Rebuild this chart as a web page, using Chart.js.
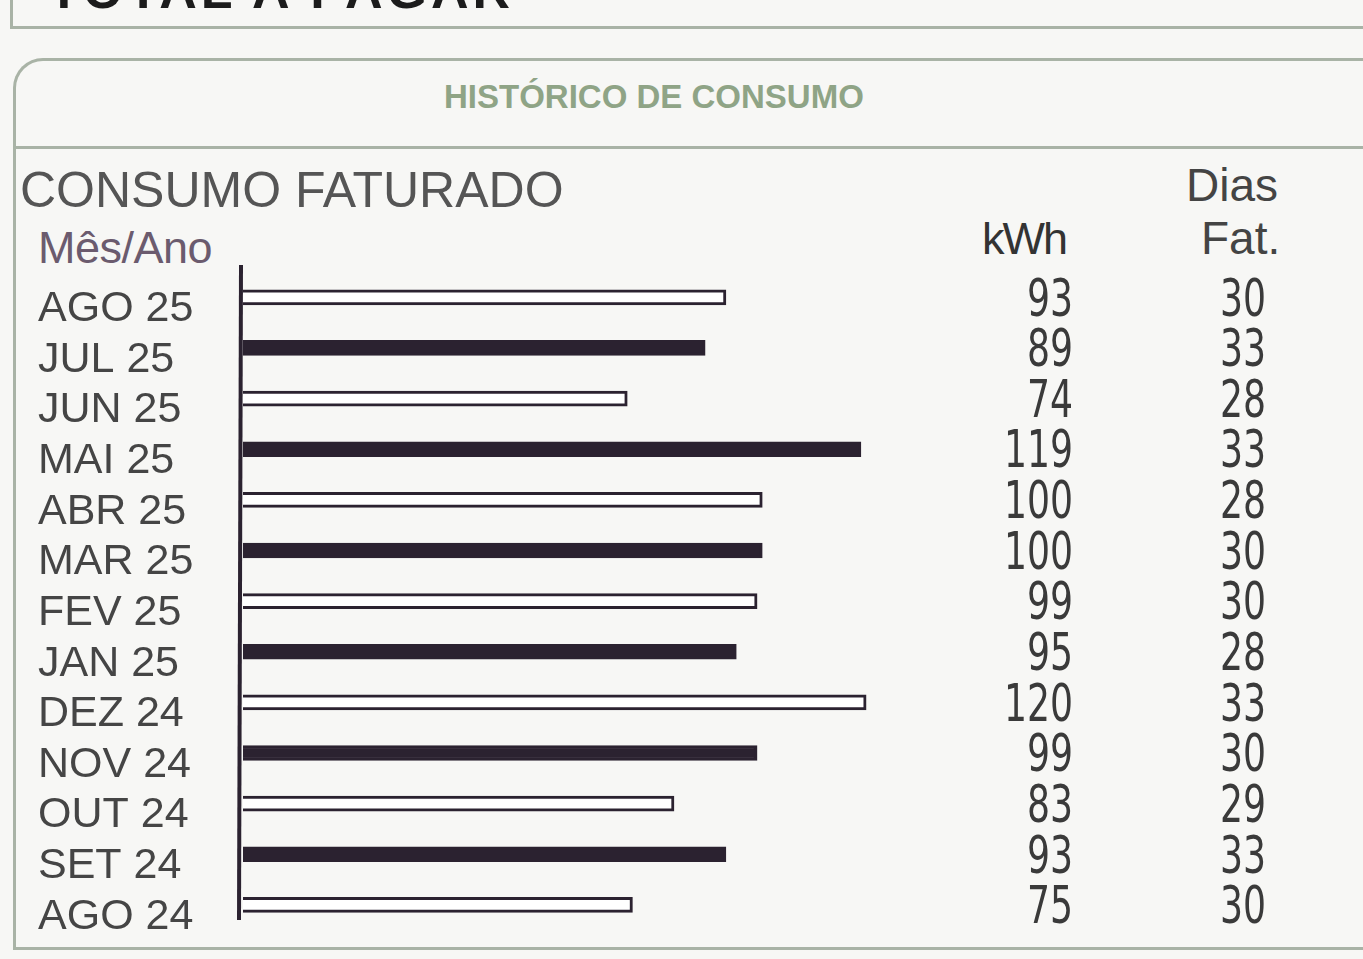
<!DOCTYPE html>
<html>
<head>
<meta charset="utf-8">
<script src="https://cdn.jsdelivr.net/npm/chart.js@4/dist/chart.umd.min.js"></script>
<style>
  body { margin: 0; background: #f7f7f5; width: 1363px; height: 959px; overflow: hidden; position: relative; font-family: "Liberation Sans", Arial, sans-serif; }
  .abs { position: absolute; }
  #topo { left: 10px; top: -40px; width: 1400px; height: 66px; border: 3px solid #a9b3a6; border-top: none; }
  #topoTxt { left: 48px; top: -40px; font: bold 52px "Liberation Sans", Arial; color: #1c1c1c; letter-spacing: 4px; }
  #caixa { left: 13px; top: 58px; width: 1400px; height: 886px; border: 3px solid #a9b3a6; border-right: none; border-radius: 30px 0 0 0; }
  #sep { left: 16px; top: 146px; width: 1400px; height: 0; border-top: 3px solid #a9b3a6; }
  #titulo { left: 444px; top: 78px; font: bold 33px "Liberation Sans", Arial; color: #8fa486; letter-spacing: 0px; }
  #consumo { left: 20px; top: 161px; font: 50px "Liberation Sans", Arial; color: #555; }
  #mesano { left: 38px; top: 222px; font: 45px "Liberation Sans", Arial; color: #6b5b6e; letter-spacing: -0.5px; }
  #kwh { left: 982px; top: 213px; font: 45px "Liberation Sans", Arial; color: #333; letter-spacing: -2px; }
  #dias { left: 1186px; top: 158px; font: 46px "Liberation Sans", Arial; color: #444; }
  #fat { left: 1201px; top: 211px; font: 46px "Liberation Sans", Arial; color: #444; }
  canvas { position: absolute; left: 0; top: 0; }
</style>
</head>
<body>
<div class="abs" id="topo"></div>
<div class="abs" id="topoTxt">TOTAL A PAGAR</div>
<div class="abs" id="caixa"></div>
<div class="abs" id="sep"></div>
<div class="abs" id="titulo">HISTÓRICO DE CONSUMO</div>
<div class="abs" id="consumo">CONSUMO FATURADO</div>
<div class="abs" id="mesano">Mês/Ano</div>
<div class="abs" id="kwh">kWh</div>
<div class="abs" id="dias">Dias</div>
<div class="abs" id="fat">Fat.</div>
<canvas id="grafico" width="1363" height="959"></canvas>
<script>
// dados do historico (mais recente primeiro)
const meses = ['AGO 25', 'JUL 25', 'JUN 25', 'MAI 25', 'ABR 25', 'MAR 25', 'FEV 25', 'JAN 25', 'DEZ 24', 'NOV 24', 'OUT 24', 'SET 24', 'AGO 24'];
const consumoKwh = [93, 89, 74, 119, 100, 100, 99, 95, 120, 99, 83, 93, 75];
const diasFat = [30, 33, 28, 33, 28, 30, 30, 28, 33, 30, 29, 33, 30];

const corEscura = '#2b2230';

// barras alternadas: vazada / preenchida
const corFundo = meses.map((m, i) => i % 2 == 0 ? '#ffffff' : corEscura);

// desenha a linha do eixo e as colunas kWh / dias
const colunas = {
  id: 'colunas',
  afterDatasetsDraw(chart) {
    const ctx = chart.ctx;
    const y = chart.scales.y;
    ctx.save();
    ctx.strokeStyle = corEscura;
    ctx.lineWidth = 4;
    ctx.beginPath();
    ctx.moveTo(241, 265);
    ctx.lineTo(239, 920);
    ctx.stroke();

    // fonte estreita: escala horizontal
    const sx = 0.71;
    ctx.scale(sx, 1);
    ctx.fillStyle = '#3a3a3a';
    ctx.font = '51px "DejaVu Sans", sans-serif';
    ctx.textAlign = 'right';
    ctx.textBaseline = 'middle';
    meses.forEach((m, i) => {
      const py = y.getPixelForValue(i) + 5;
      ctx.fillText(String(consumoKwh[i]), 1073 / sx, py);
      ctx.fillText(String(diasFat[i]), 1266 / sx, py);
    });
    ctx.restore();
  }
};

new Chart(document.getElementById('grafico'), {
  type: 'bar',
  data: {
    labels: meses,
    datasets: [{
      data: consumoKwh,
      backgroundColor: corFundo,
      borderColor: corEscura,
      borderWidth: 3,
      borderSkipped: 'left',
      barThickness: 15
    }]
  },
  options: {
    indexAxis: 'y',
    responsive: false,
    animation: false,
    devicePixelRatio: 1,
    layout: { padding: { left: 38, top: 272, bottom: 21, right: 393 } },
    plugins: { legend: { display: false }, tooltip: { enabled: false } },
    scales: {
      x: { display: false, min: 0, max: 140 },
      y: {
        grid: { display: false },
        border: { display: false },
        afterFit(scale) { scale.width = 205; },
        ticks: {
          autoSkip: false,
          crossAlign: 'far',
          labelOffset: 12,
          color: '#454545',
          font: { family: '"Liberation Sans", Arial, sans-serif', size: 43 }
        }
      }
    }
  },
  plugins: [colunas]
});
</script>
</body>
</html>
